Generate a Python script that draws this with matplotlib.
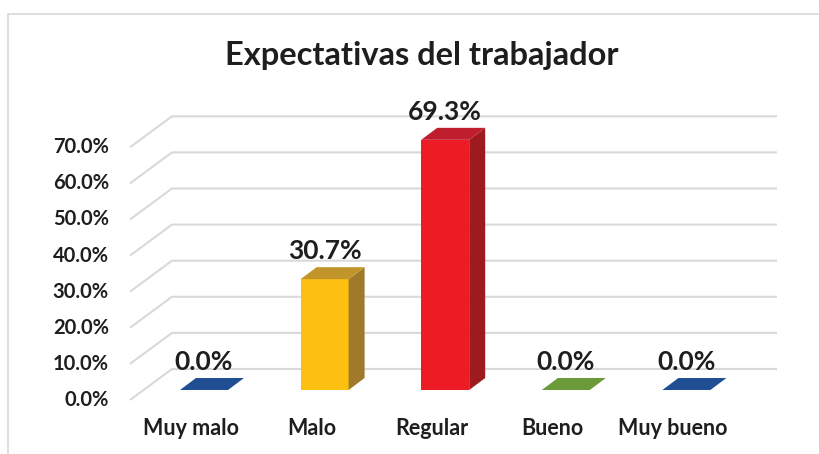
import numpy as np
import matplotlib.pyplot as plt
from matplotlib.patches import Polygon, Rectangle

# Datos del grafico
categorias = ["Muy malo", "Malo", "Regular", "Bueno", "Muy bueno"]
porcentajes = [0.0, 30.7, 69.3, 0.0, 0.0]
ticks = [0, 10, 20, 30, 40, 50, 60, 70]

# Colores de cada barra (frente, lado, tapa)
c_frente = ["#2E5FA8", "#FDC010", "#ED1C24", "#7AAE45", "#2E5FA8"]
c_lado = ["#173C72", "#A07A2A", "#9D1A1E", "#4E7428", "#173C72"]
c_tapa = ["#1F4E93", "#C1952A", "#BE1E2D", "#6A9A3A", "#1F4E93"]

plt.rcParams['font.family'] = ['Lato', 'DejaVu Sans']
texto = "#1e1e1e"

fig = plt.figure(figsize=(8.2, 4.54), dpi=100)
ax = fig.add_axes([0, 0, 1, 1])
ax.set_xlim(-1.6915, 5.1078)
ax.set_ylim(-17.73, 108.03)
ax.axis('off')

# marco del area del grafico
fig.patches.append(Rectangle((8 / 820, -0.1), 1.2, 1 - 14 / 454 + 0.1,
                             transform=fig.transFigure, fill=False,
                             edgecolor="#d9d9d9", linewidth=1.2))

# profundidad 3D
ancho = 0.398
dx, dy = 0.1327, 3.32
gx_frente, gy_frente = -0.6136, -2.77
gx_fondo, gy_fondo = -0.2653, 5.82
gx_fin = 4.751
gris = "#d9d9d9"

# lineas de cuadricula (pared lateral + pared de fondo)
for t in ticks:
    ax.plot([gx_frente, gx_fondo, gx_fin],
            [t + gy_frente, t + gy_fondo, t + gy_fondo],
            color=gris, linewidth=1.5, zorder=1, solid_capstyle='butt')
    ax.text(-0.788, t + gy_frente, f"{t:.1f}%", ha='right', va='center',
            fontsize=14.5, fontweight='bold', color=texto)

x = np.arange(len(categorias))
ax.bar(x, porcentajes, width=ancho, color=c_frente, zorder=3)

for i, v in enumerate(porcentajes):
    xl = x[i] - ancho / 2
    xr = x[i] + ancho / 2
    if v > 0:
        lado = Polygon([(xr, 0), (xr, v), (xr + dx, v + dy), (xr + dx, dy)],
                       closed=True, facecolor=c_lado[i], edgecolor='none', zorder=3)
        ax.add_patch(lado)
    tapa = Polygon([(xl, v), (xr, v), (xr + dx, v + dy), (xl + dx, v + dy)],
                   closed=True, facecolor=c_tapa[i], edgecolor='none', zorder=4)
    ax.add_patch(tapa)
    ax.text(x[i], v + dy + 2.3, f"{v:.1f}%", ha='center', va='baseline',
            fontsize=19, fontweight='bold', color=texto, zorder=5)
    ax.text(x[i] - 0.11, -12.47, categorias[i], ha='center', va='baseline',
            fontsize=15.5, fontweight='bold', color=texto)

fig.text(422 / 820, 1 - 65 / 454, "Expectativas del trabajador", ha='center',
         va='baseline', fontsize=23.5, fontweight='bold', color=texto)

fig.savefig("out.png", dpi=100)
